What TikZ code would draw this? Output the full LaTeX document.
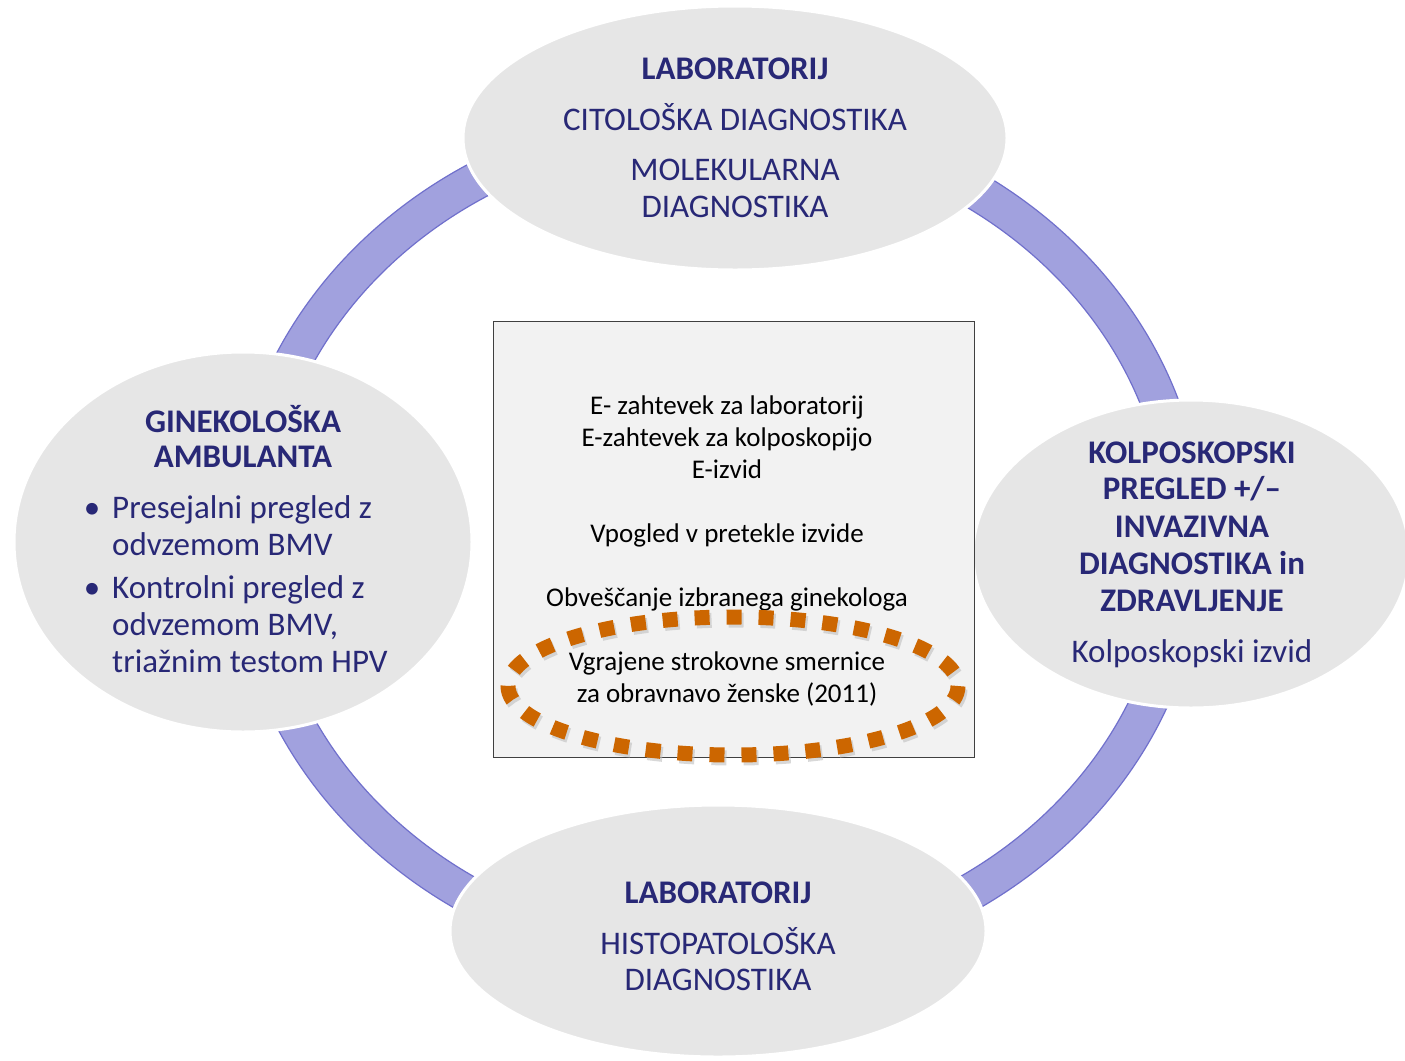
\documentclass[tikz,border=0pt]{standalone}
\usepackage{fontspec}
\setmainfont{Carlito}
\usetikzlibrary{shapes.geometric,calc}
\definecolor{ringfill}{RGB}{161,161,222}
\definecolor{ringedge}{RGB}{112,112,204}
\definecolor{ovalfill}{RGB}{230,230,230}
\definecolor{navy}{RGB}{40,40,118}
\definecolor{boxfill}{RGB}{242,242,242}
\definecolor{boxedge}{RGB}{64,64,64}
\definecolor{dotorange}{RGB}{204,102,0}
\tikzset{
  oval/.style={ellipse, fill=ovalfill, draw=white, line width=3bp, inner sep=0pt},
  big/.style={text=navy, inner sep=0pt, font=\fontsize{33bp}{37bp}\selectfont},
  bighead/.style={big, font=\fontsize{33bp}{37bp}\selectfont\bfseries},
  small/.style={text=black, inner sep=0pt, font=\fontsize{27bp}{32bp}\selectfont},
}
\begin{document}
\begin{tikzpicture}[x=1bp,y=-1bp]
\useasboundingbox (0,0) rectangle (1405,1060);
\clip (0,0) rectangle (1405,1060);
\fill[white] (0,0) rectangle (1405,1060);
% ring
\coordinate (rc) at (717,540);
\path[fill=ringfill, draw=ringedge, line width=1.2bp, even odd rule]
  (rc) ellipse [x radius=487, y radius=437]
  (rc) ellipse [x radius=450, y radius=400];
% ovals
\node[oval, minimum width=544bp, minimum height=264bp] (top) at (735,138) {};
\node[oval, minimum width=536bp, minimum height=252bp] (bottom) at (718,931) {};
\node[oval, minimum width=458bp, minimum height=380bp] (left) at (243,542) {};
\node[oval, minimum width=436bp, minimum height=308bp] (right) at (1191,554) {};
% central box
\node[draw=boxedge, fill=boxfill, line width=1bp, minimum width=481bp, minimum height=436bp, inner sep=0pt] (box) at (733.5,539) {};
\node[small, anchor=base] (b1) at (727,414) {E- zahtevek za laboratorij};
\node[small, anchor=base] (b2) at (727,446) {E-zahtevek za kolposkopijo};
\node[small, anchor=base] (b3) at (727,478) {E-izvid};
\node[small, anchor=base] (b4) at (727,542) {Vpogled v pretekle izvide};
\node[small, anchor=base] (b5) at (727,606) {Obveščanje izbranega ginekologa};
\node[small, anchor=base] (b6) at (727,670) {Vgrajene strokovne smernice};
\node[small, anchor=base] (b7) at (727,702) {za obravnavo ženske (2011)};
% dotted oval
\coordinate (dc) at (733,686);
\draw[black!25, line width=15bp, dash pattern=on 15bp off 17bp, opacity=0.6]
  ($(dc)+(2,3)$) ellipse [x radius=225, y radius=69];
\draw[dotorange, line width=15bp, dash pattern=on 15bp off 17bp]
  (dc) ellipse [x radius=225, y radius=69];
% top texts
\node[bighead, anchor=base] (t1) at (735,79) {LABORATORIJ};
\node[big, anchor=base] (t2) at (735,130) {CITOLOŠKA DIAGNOSTIKA};
\node[big, anchor=base] (t3) at (735,180) {MOLEKULARNA};
\node[big, anchor=base] (t4) at (735,217) {DIAGNOSTIKA};
% bottom texts
\node[bighead, anchor=base] (u1) at (718,903) {LABORATORIJ};
\node[big, anchor=base] (u2) at (718,954) {HISTOPATOLOŠKA};
\node[big, anchor=base] (u3) at (718,990) {DIAGNOSTIKA};
% left texts
\node[bighead, anchor=base] (l1) at (243,432) {GINEKOLOŠKA};
\node[bighead, anchor=base] (l2) at (243,467) {AMBULANTA};
\node[big, anchor=base] (lb1) at (92,518) {•};
\node[big, anchor=base west] (l3) at (112,518) {Presejalni pregled z};
\node[big, anchor=base west] (l4) at (112,555) {odvzemom BMV};
\node[big, anchor=base] (lb2) at (92,598) {•};
\node[big, anchor=base west] (l5) at (112,598) {Kontrolni pregled z};
\node[big, anchor=base west] (l6) at (112,635) {odvzemom BMV,};
\node[big, anchor=base west] (l7) at (112,672) {triažnim testom HPV};
% right texts
\node[bighead, anchor=base] (r1) at (1192,463) {KOLPOSKOPSKI};
\node[bighead, anchor=base] (r2) at (1192,499) {PREGLED +/–};
\node[bighead, anchor=base] (r3) at (1192,537) {INVAZIVNA};
\node[bighead, anchor=base] (r4) at (1192,574) {DIAGNOSTIKA in};
\node[bighead, anchor=base] (r5) at (1192,611) {ZDRAVLJENJE};
\node[big, anchor=base] (r6) at (1192,662) {Kolposkopski izvid};
\end{tikzpicture}
\end{document}
